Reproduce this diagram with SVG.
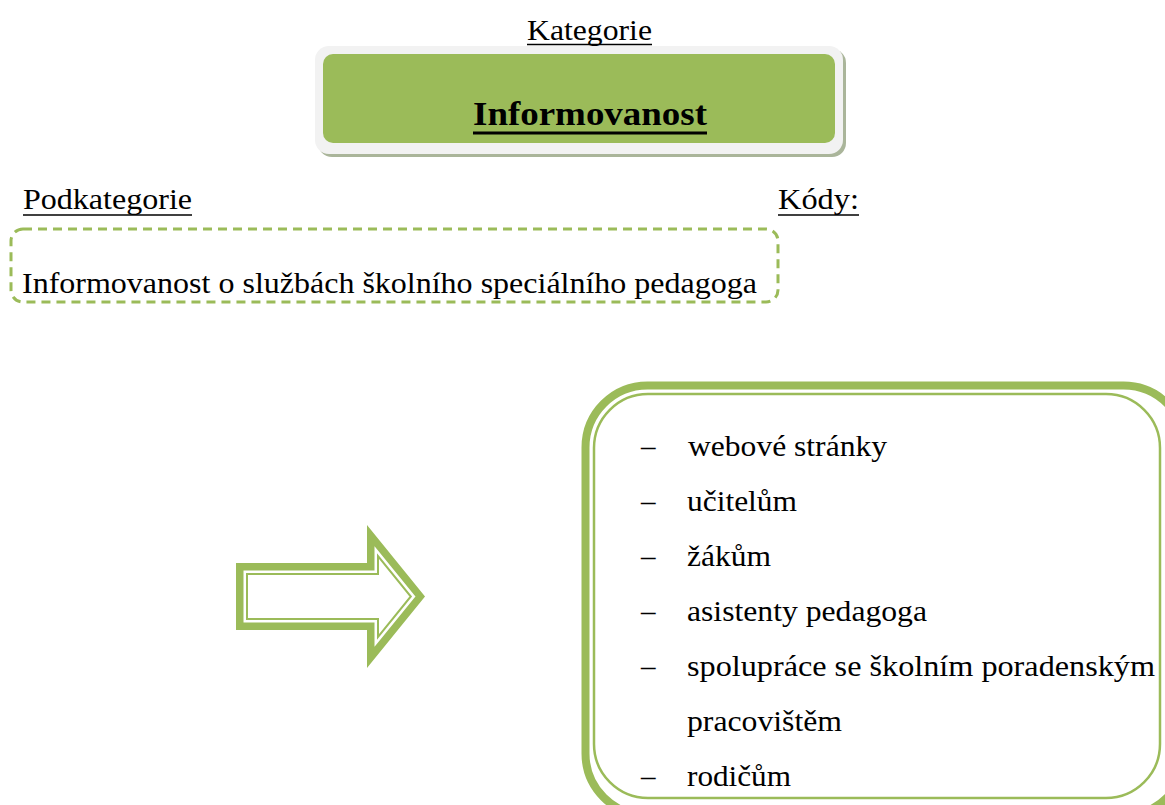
<svg xmlns="http://www.w3.org/2000/svg" width="1165" height="805" viewBox="0 0 1165 805">
<style>
.t{font-family:"Liberation Serif","Times New Roman",Tinos,serif;font-size:29px;fill:#000}
.b{font-weight:bold;font-size:34px}
.ul{stroke:#000;stroke-width:1.5}
.g{fill:none;stroke:#9BBB59}
</style>
<rect width="1165" height="805" fill="#fff"/>
<g id="category">
<text class="t" x="527" y="40" textLength="125" lengthAdjust="spacingAndGlyphs">Kategorie</text>
<line class="ul" x1="527" y1="44.5" x2="652" y2="44.5"/>
<rect x="318" y="49" width="528" height="108" rx="14" fill="#aab59a"/>
<rect x="315" y="46" width="528" height="108" rx="14" fill="#f2f2f2"/>
<rect x="323" y="54" width="512" height="89" rx="10" fill="#9BBB59"/>
<text class="t b" x="473" y="125" textLength="234" lengthAdjust="spacingAndGlyphs">Informovanost</text>
<line x1="473" y1="133" x2="707" y2="133" stroke="#000" stroke-width="3"/>
</g>
<g id="subcategory">
<text class="t" x="23" y="209" textLength="169" lengthAdjust="spacingAndGlyphs">Podkategorie</text>
<line class="ul" x1="23" y1="215" x2="192" y2="215"/>
<text class="t" x="778" y="209" textLength="81" lengthAdjust="spacingAndGlyphs">Kódy:</text>
<line class="ul" x1="778" y1="215" x2="859" y2="215"/>
<rect class="g" x="11" y="229" width="767" height="73" rx="12" stroke-width="3" stroke-dasharray="9 6"/>
<text class="t" x="22" y="293" textLength="735" lengthAdjust="spacingAndGlyphs">Informovanost o službách školního speciálního pedagoga</text>
</g>
<g id="arrow">
<polygon class="g" stroke-width="7.5" stroke-linejoin="miter" points="239.75,566.75 370.75,566.75 370.75,535.6 420.2,596.5 370.75,657.4 370.75,626.25 239.75,626.25"/>
<polygon class="g" stroke-width="2" points="247,574 378,574 378,556 410.8,596.5 378,637 378,619 247,619"/>
</g>
<g id="codes">
<rect class="g" x="585.5" y="385.5" width="600" height="430" rx="62" stroke-width="8"/>
<rect class="g" x="594" y="394" width="566" height="404" rx="54" stroke-width="2.5"/>
<g class="t">
<text x="641" y="456">–</text><text x="688" y="456" textLength="199" lengthAdjust="spacingAndGlyphs">webové stránky</text>
<text x="641" y="511">–</text><text x="687" y="511" textLength="110" lengthAdjust="spacingAndGlyphs">učitelům</text>
<text x="641" y="566">–</text><text x="687" y="566" textLength="84" lengthAdjust="spacingAndGlyphs">žákům</text>
<text x="641" y="621">–</text><text x="687" y="621" textLength="240" lengthAdjust="spacingAndGlyphs">asistenty pedagoga</text>
<text x="641" y="676">–</text><text x="687" y="676" textLength="468" lengthAdjust="spacingAndGlyphs">spolupráce se školním poradenským</text>
<text x="687" y="731" textLength="155" lengthAdjust="spacingAndGlyphs">pracovištěm</text>
<text x="641" y="786">–</text><text x="687" y="786" textLength="104" lengthAdjust="spacingAndGlyphs">rodičům</text>
</g>
</g>
<g id="connectors"/>
</svg>
